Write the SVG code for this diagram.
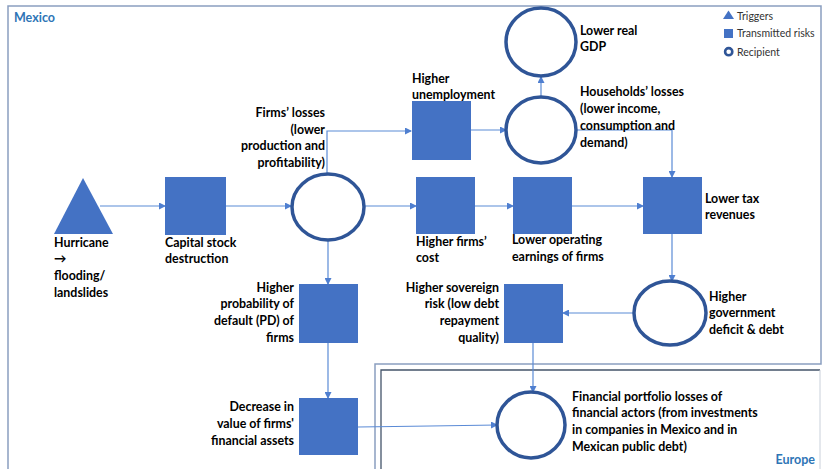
<svg xmlns="http://www.w3.org/2000/svg" width="823" height="469" viewBox="0 0 823 469">
<defs>
<marker id="ah" markerWidth="7" markerHeight="7" refX="6" refY="3.5" orient="auto" markerUnits="userSpaceOnUse">
<path d="M0,0 L7,3.5 L0,7 Z" fill="#4F7FD0"/>
</marker>
<style>
.sq{fill:#4472C4}
.rc{fill:#fff;stroke:#2F5597;stroke-width:3.5}
.lb{font-family:Lato,"Liberation Sans",sans-serif;font-weight:bold;font-size:12.4px;fill:#000}
.lg{font-family:Lato,"Liberation Sans",sans-serif;font-size:10.5px;fill:#333}
.rg{font-family:Lato,"Liberation Sans",sans-serif;font-weight:bold;font-size:12.5px;fill:#2E75B6}
.end{text-anchor:end}
.cn{fill:none;stroke:#5B8BD6;stroke-width:1.2;marker-end:url(#ah)}
</style>
</defs>
<rect width="823" height="469" fill="#fff"/>
<g id="regions">
<path d="M8,469 V6 H821 V364 H375 V469" fill="none" stroke="#8A9EC0" stroke-width="1.5"/>
<path d="M381,469 V370 H820" fill="none" stroke="#44546A" stroke-width="1.3"/>
<path d="M820,370 V469" fill="none" stroke="#C9D0DA" stroke-width="1"/>
<text class="rg" x="14" y="22">Mexico</text>
<text class="rg end" x="815" y="464">Europe</text>
</g>
<g id="legend">
<path d="M723,19 L734,19 L728.5,10.5 Z" fill="#4472C4"/>
<rect x="724" y="29" width="9" height="9" fill="#4472C4"/>
<circle cx="728.7" cy="51.7" r="3.6" fill="#fff" stroke="#2F5597" stroke-width="2.6"/>
<text class="lg" x="737" y="19.5">Triggers</text>
<text class="lg" x="737" y="36.5">Transmitted risks</text>
<text class="lg" x="737" y="55.5">Recipient</text>
</g>
<g id="connectors">
<line class="cn" x1="100" y1="206" x2="165" y2="206"/>
<line class="cn" x1="226" y1="206" x2="291" y2="206"/>
<line class="cn" x1="365" y1="206" x2="416" y2="206"/>
<line class="cn" x1="475" y1="206" x2="513" y2="206"/>
<line class="cn" x1="572" y1="206" x2="643" y2="206"/>
<polyline class="cn" points="327,174 327,131 411,131"/>
<line class="cn" x1="471" y1="130" x2="506" y2="130"/>
<line class="cn" x1="541" y1="97" x2="541" y2="77"/>
<polyline class="cn" points="577,130 672,130 672,177"/>
<line class="cn" x1="672" y1="234" x2="672" y2="281"/>
<line class="cn" x1="634" y1="313" x2="563" y2="313"/>
<line class="cn" x1="328" y1="240" x2="328" y2="284"/>
<line class="cn" x1="328" y1="343" x2="328" y2="398"/>
<polyline class="cn" points="358,427 430,426 497,425"/>
<line class="cn" x1="533" y1="343" x2="533" y2="392"/>
</g>
<g id="hurricane">
<path d="M54,234 L113,234 L83,178 Z" fill="#4472C4"/>
<text class="lb" x="54" y="247">Hurricane</text>
<text class="lb" x="54" y="263">→</text>
<text class="lb" x="54" y="280">flooding/</text>
<text class="lb" x="54" y="297">landslides</text>
</g>
<g id="capital">
<rect class="sq" x="165" y="177" width="61" height="58"/>
<text class="lb" x="165" y="247">Capital stock</text>
<text class="lb" x="165" y="263">destruction</text>
</g>
<g id="firms-losses">
<ellipse class="rc" cx="328" cy="207" rx="36" ry="33"/>
<text class="lb end" x="325" y="117">Firms’ losses</text>
<text class="lb end" x="325" y="134">(lower</text>
<text class="lb end" x="325" y="150">production and</text>
<text class="lb end" x="325" y="167">profitability)</text>
</g>
<g id="unemployment">
<rect class="sq" x="412" y="101" width="59" height="59"/>
<text class="lb" x="412" y="83">Higher</text>
<text class="lb" x="412" y="99">unemployment</text>
</g>
<g id="households">
<ellipse class="rc" cx="541" cy="130" rx="35" ry="33"/>
<text class="lb" x="580" y="96">Households’ losses</text>
<text class="lb" x="580" y="113">(lower income,</text>
<text class="lb" x="580" y="130">consumption and</text>
<text class="lb" x="580" y="147">demand)</text>
</g>
<g id="gdp">
<ellipse class="rc" cx="541" cy="42" rx="35" ry="34"/>
<text class="lb" x="580" y="35">Lower real</text>
<text class="lb" x="580" y="51">GDP</text>
</g>
<g id="firms-cost">
<rect class="sq" x="416" y="177" width="59" height="57"/>
<text class="lb" x="416" y="246">Higher firms’</text>
<text class="lb" x="416" y="262">cost</text>
</g>
<g id="operating">
<rect class="sq" x="513" y="177" width="59" height="57"/>
<text class="lb" x="512" y="244">Lower operating</text>
<text class="lb" x="512" y="261">earnings of firms</text>
</g>
<g id="tax">
<rect class="sq" x="643" y="177" width="59" height="57"/>
<text class="lb" x="705" y="203">Lower tax</text>
<text class="lb" x="705" y="219">revenues</text>
</g>
<g id="government">
<ellipse class="rc" cx="670" cy="313" rx="36" ry="32"/>
<text class="lb" x="709" y="301">Higher</text>
<text class="lb" x="709" y="317">government</text>
<text class="lb" x="709" y="334">deficit &amp; debt</text>
</g>
<g id="sovereign">
<rect class="sq" x="504" y="284" width="59" height="59"/>
<text class="lb end" x="499" y="292">Higher sovereign</text>
<text class="lb end" x="499" y="308">risk (low debt</text>
<text class="lb end" x="499" y="325">repayment</text>
<text class="lb end" x="499" y="342">quality)</text>
</g>
<g id="pd">
<rect class="sq" x="299" y="284" width="59" height="59"/>
<text class="lb end" x="294" y="292">Higher</text>
<text class="lb end" x="294" y="308">probability of</text>
<text class="lb end" x="294" y="325">default (PD) of</text>
<text class="lb end" x="294" y="342">firms</text>
</g>
<g id="decrease">
<rect class="sq" x="299" y="398" width="59" height="57"/>
<text class="lb end" x="294" y="411">Decrease in</text>
<text class="lb end" x="294" y="428">value of firms'</text>
<text class="lb end" x="294" y="445">financial assets</text>
</g>
<g id="portfolio">
<ellipse class="rc" cx="531" cy="425" rx="34" ry="33"/>
<text class="lb" x="572" y="401">Financial portfolio losses of</text>
<text class="lb" x="572" y="417">financial actors (from investments</text>
<text class="lb" x="572" y="434">in companies in Mexico and in</text>
<text class="lb" x="572" y="451">Mexican public debt)</text>
</g>
</svg>
